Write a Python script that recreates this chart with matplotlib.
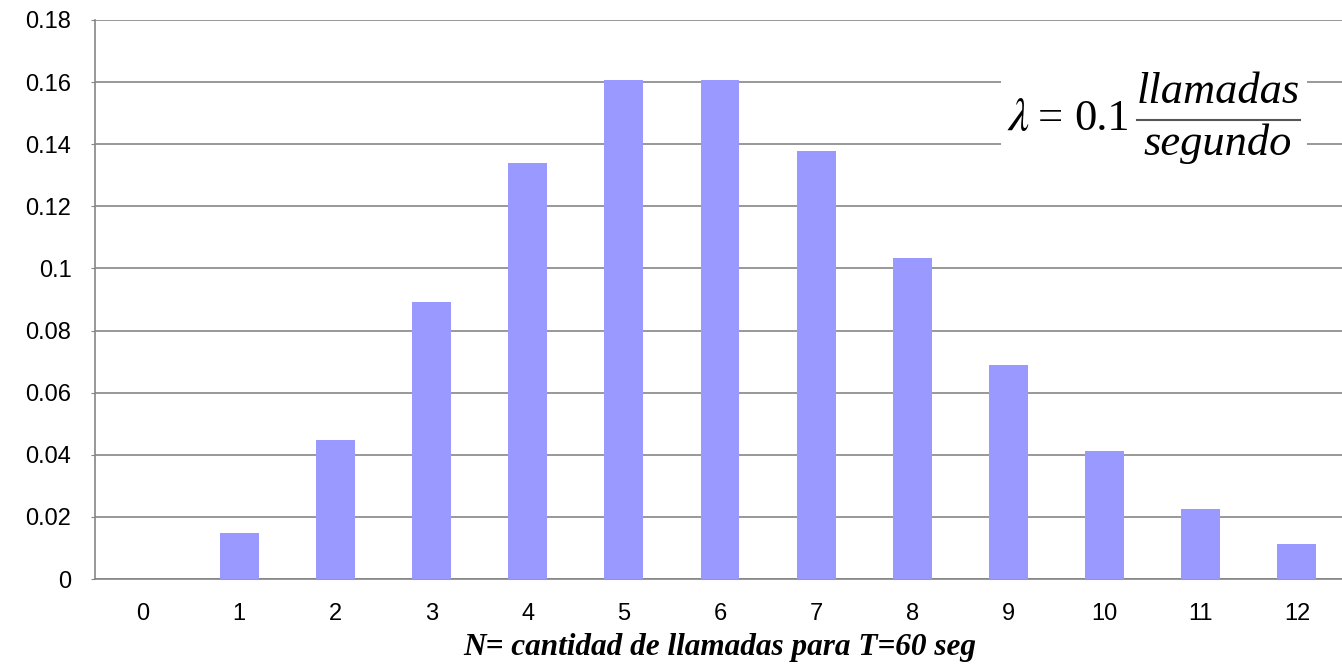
import matplotlib
from matplotlib import pyplot as plt
from matplotlib.patches import Rectangle
from matplotlib.lines import Line2D
import numpy as np

n_vals = list(range(13))
prob = [0.0, 0.0149, 0.0446, 0.0892, 0.1339, 0.1606, 0.1606,
        0.1377, 0.1033, 0.0688, 0.0413, 0.0225, 0.0113]
yticks = [0, 0.02, 0.04, 0.06, 0.08, 0.1, 0.12, 0.14, 0.16, 0.18]
ytick_labels = ['0', '0.02', '0.04', '0.06', '0.08', '0.1', '0.12', '0.14', '0.16', '0.18']

plt.rcParams['font.family'] = ['Liberation Sans', 'DejaVu Sans']
plt.rcParams['mathtext.fontset'] = 'stix'

W, H = 1342, 669
fig = plt.figure(figsize=(W / 100, H / 100), dpi=100)
ax = fig.add_axes([95/W, 1 - 579/H, (1345 - 95)/W, (579 - 20)/H])

ax.bar(n_vals, prob, width=0.405, color='#9999ff', zorder=3)

ax.set_xlim(-0.5, 12.5)
ax.set_ylim(0, 0.18)
ax.set_yticks(yticks)
ax.set_yticklabels(ytick_labels)
ax.set_xticks(n_vals)
ax.grid(axis='y', color='#868686', linewidth=1.2, zorder=0)
ax.tick_params(axis='y', length=3, color='#868686', labelsize=17, pad=14)
ax.tick_params(axis='x', length=0, labelsize=17, pad=17)
for s in ['top', 'right']:
    ax.spines[s].set_visible(False)
for s in ['left', 'bottom']:
    ax.spines[s].set_color('#868686')
    ax.spines[s].set_linewidth(1.2)

ax.set_xlabel('N= cantidad de llamadas para T=60 seg', family='Liberation Serif',
              style='italic', weight='bold', fontsize=22.5, labelpad=6)

# formula lambda = 0.1 llamadas/segundo on a white box hiding the grid
def fx(px):
    return px / W

def fy(py):
    return 1 - py / H

ax.add_patch(Rectangle((fx(1001), fy(190)), 306/W, 140/H, transform=fig.transFigure,
                       facecolor='white', edgecolor='none', zorder=4))
serif = dict(family=['Liberation Serif', 'DejaVu Serif'], fontsize=32, va='baseline', zorder=5)
fig.text(fx(1007), fy(130), r'$\lambda$', ha='left', fontsize=34,
         **{k: v for k, v in serif.items() if k != 'fontsize'})
fig.text(fx(1050), fy(130), '=', ha='center', **serif)
fig.text(fx(1074), fy(130), '0.1', ha='left', **serif)
fig.text(fx(1218), fy(103), 'llamadas', ha='center', style='italic', **serif)
fig.text(fx(1218), fy(155), 'segundo', ha='center', style='italic', **serif)
fig.add_artist(Line2D([fx(1137), fx(1300)], [fy(119.5), fy(119.5)], transform=fig.transFigure,
                      color='#555555', linewidth=1.5, zorder=5))

fig.savefig('out.png', dpi=100)
